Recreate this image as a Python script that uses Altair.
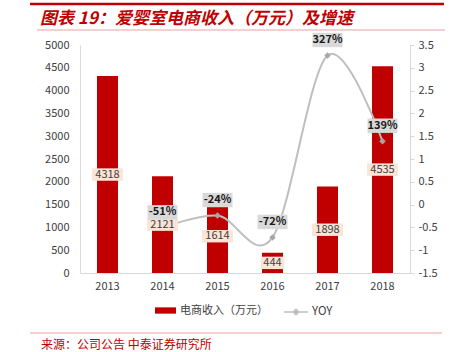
import altair as alt
import pandas as pd

# ---- data ----
years = ["2013", "2014", "2015", "2016", "2017", "2018"]
revenue = [4318, 2121, 1614, 444, 1898, 4535]
yoy_years = ["2014", "2015", "2016", "2017", "2018"]
yoy = [-0.51, -0.24, -0.72, 3.27, 1.39]
left_ticks = [0, 500, 1000, 1500, 2000, 2500, 3000, 3500, 4000, 4500, 5000]
right_ticks = [-1.5, -1, -0.5, 0, 0.5, 1, 1.5, 2, 2.5, 3, 3.5]

title_text = "图表 19：爱婴室电商收入（万元）及增速"
source_text = "来源：公司公告 中泰证券研究所"
bar_name = "电商收入（万元）"
line_name = "YOY"

FONT = "Noto Sans CJK SC"
RED = "#c00000"


def box_path(half_w, half_h, side=40.0):
    a = half_w / (side / 2)
    b = half_h / (side / 2)
    return f"M{-a},{-b}H{a}V{b}H{-a}Z"


rev_df = pd.DataFrame({"year": years, "rev": revenue})
rev_df["label"] = rev_df["rev"].astype(str)
rev_df["box"] = [box_path(3.6 * len(s) + 1, 6.2) for s in rev_df["label"]]
rev_df["series"] = bar_name

yoy_df = pd.DataFrame({"year": yoy_years, "yoy": yoy})
yoy_df["label"] = [f"{round(v * 100)}%" for v in yoy]
yoy_df["box"] = [box_path(15, 7.2) for _ in yoy_df["label"]]
yoy_df["series"] = line_name

one = pd.DataFrame({"a": [0]})

x_enc = alt.X(
    "year:N",
    sort=years,
    title=None,
    scale=alt.Scale(paddingInner=0.62, paddingOuter=0.31),
    axis=alt.Axis(
        labelAngle=0, ticks=False, domainColor="#d9d9d9", domainWidth=1,
        labelFont=FONT, labelFontSize=11, labelColor="#404040", labelPadding=7,
    ),
)

yl_scale = alt.Scale(domain=[0, 5000], nice=False, zero=True)
yr_scale = alt.Scale(domain=[-1.5, 3.5], nice=False, zero=False)

bars = alt.Chart(rev_df).mark_bar(size=21).encode(
    x=x_enc,
    y=alt.Y(
        "rev:Q", scale=yl_scale, title=None,
        axis=alt.Axis(
            orient="left", values=left_ticks, format="d", grid=False, ticks=False,
            domainColor="#d9d9d9", labelFont=FONT, labelFontSize=11,
            labelColor="#404040", labelPadding=11,
        ),
    ),
    color=alt.Color(
        "series:N", scale=alt.Scale(range=[RED]),
        legend=alt.Legend(
            orient="none", legendX=74, legendY=254, title=None,
            symbolType="M-1,-0.3H1V0.3H-1Z", symbolSize=441,
            labelFont=FONT, labelFontSize=11, labelColor="#404040", labelOffset=3,
        ),
    ),
)

line = alt.Chart(yoy_df).mark_line(
    interpolate="cardinal", strokeWidth=2
).encode(
    x=x_enc,
    y=alt.Y(
        "yoy:Q", scale=yr_scale, title=None,
        axis=alt.Axis(
            orient="right", values=right_ticks, labelExpr="'' + datum.value",
            grid=False, ticks=True, tickSize=4, tickColor="#d9d9d9",
            domainColor="#d9d9d9", labelFont=FONT, labelFontSize=11,
            labelColor="#404040", labelPadding=4,
        ),
    ),
    stroke=alt.Stroke(
        "series:N", scale=alt.Scale(range=["#bfbfbf"]),
        legend=alt.Legend(
            orient="none", legendX=203, legendY=254, title=None,
            symbolType="M-1,0H1M0,-0.22L0.22,0L0,0.22L-0.22,0Z", symbolSize=576,
            symbolStrokeWidth=1.5, symbolFillColor="#a6a6a6",
            labelFont=FONT, labelFontSize=11.5, labelColor="#404040", labelOffset=3,
        ),
    ),
)

points = alt.Chart(yoy_df).mark_point(
    shape="diamond", filled=True, size=42, color="#a6a6a6", opacity=1
).encode(
    x=x_enc,
    y=alt.Y("yoy:Q", scale=yr_scale, axis=None),
)

rev_boxes = alt.Chart(rev_df).transform_calculate(
    mid="datum.rev / 2"
).mark_point(filled=True, size=1600, color="#fce4d6", opacity=1).encode(
    x=x_enc,
    y=alt.Y("mid:Q", scale=yl_scale, axis=None),
    shape=alt.Shape("box:N", scale=None),
)

rev_text = alt.Chart(rev_df).transform_calculate(
    mid="datum.rev / 2"
).mark_text(font=FONT, fontSize=11, color="#404040", baseline="middle").encode(
    x=x_enc,
    y=alt.Y("mid:Q", scale=yl_scale, axis=None),
    text="label:N",
)

yoy_boxes = alt.Chart(yoy_df).mark_point(
    filled=True, size=1600, color="#d9d9d9", opacity=1, yOffset=-15.5
).encode(
    x=x_enc,
    y=alt.Y("yoy:Q", scale=yr_scale, axis=None),
    shape=alt.Shape("box:N", scale=None),
)

yoy_text = alt.Chart(yoy_df).mark_text(
    font=FONT, fontSize=11, fontWeight="bold", color="#1a1a1a",
    baseline="middle", yOffset=-15.5,
).encode(
    x=x_enc,
    y=alt.Y("yoy:Q", scale=yr_scale, axis=None),
    text="label:N",
)

top_rule = alt.Chart(one).mark_rule(color=RED, strokeWidth=2.5).encode(
    x=alt.value(-50), x2=alt.value(364), y=alt.value(-41)
)
title_rule = alt.Chart(one).mark_rule(color="#e8a3a3", strokeWidth=1).encode(
    x=alt.value(-43), x2=alt.value(365), y=alt.value(-15)
)
bottom_rule = alt.Chart(one).mark_rule(color="#e8a3a3", strokeWidth=1).encode(
    x=alt.value(-50), x2=alt.value(362), y=alt.value(288)
)
source = alt.Chart(one).mark_text(
    font=FONT, fontSize=12, color=RED, align="left", baseline="middle"
).encode(
    x=alt.value(-39), y=alt.value(300), text=alt.value(source_text)
)

chart = alt.layer(
    bars, line, points, rev_boxes, rev_text, yoy_boxes, yoy_text,
    top_rule, title_rule, bottom_rule, source,
).resolve_scale(
    y="independent", color="independent", stroke="independent"
).properties(
    width=330,
    height=228,
    padding={"left": 80, "top": 45, "right": 46, "bottom": 79},
    autosize=alt.AutoSizeParams(type="none"),
    title=alt.Title(
        title_text, anchor="start", frame="group", dx=-40, dy=35, offset=10,
        font=FONT, fontSize=17, fontWeight="bold", fontStyle="italic", color=RED,
    ),
).configure_view(stroke=None)

chart.save("out.html", embed_options={"renderer": "svg", "actions": False})
